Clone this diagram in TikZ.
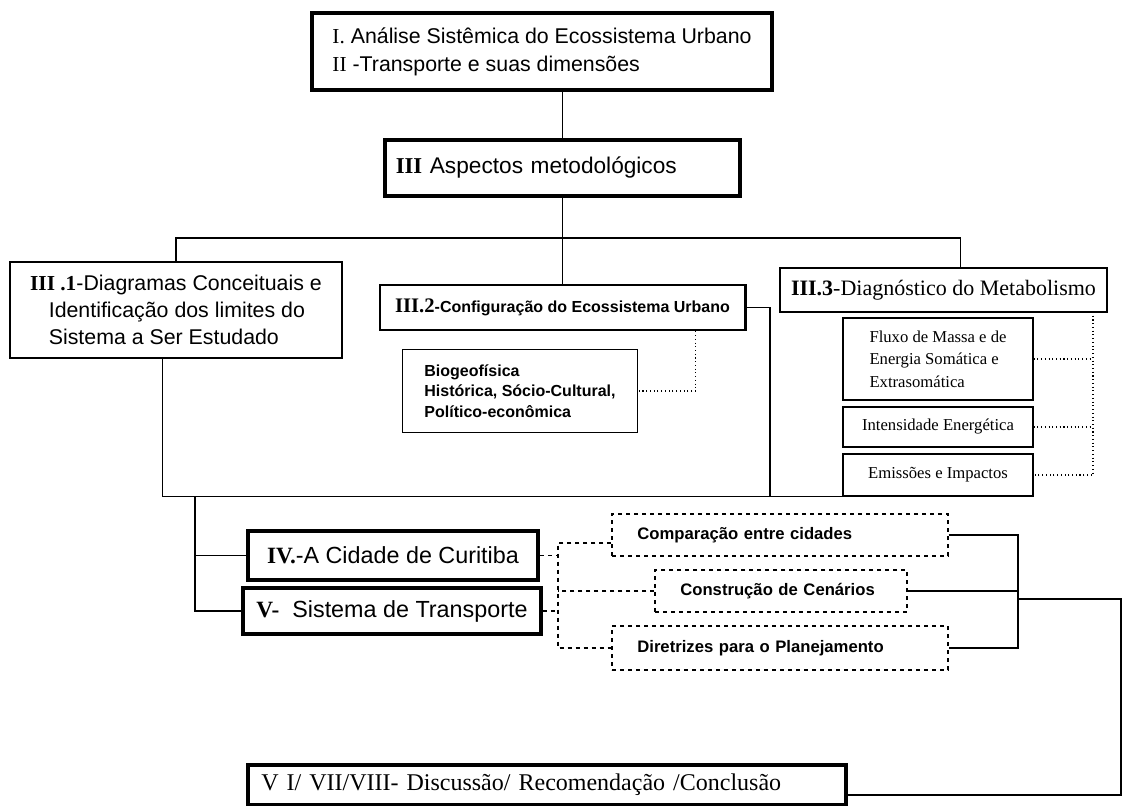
\documentclass[tikz,border=0pt]{standalone}
\usepackage{fontspec}
\setmainfont{Liberation Serif}
\setsansfont{Liberation Sans}
\usepackage{tikz}

\begin{document}
\begin{tikzpicture}[x=0.75pt,y=-0.75pt,
    every node/.style={inner sep=0pt,align=left},
    heavybox/.style={draw,line width=3.2pt},
    midbox/.style={draw,line width=2pt},
    thinbox/.style={draw,line width=0.9pt},
    metabsub/.style={thinbox,minimum width=142.5pt,font=\rmfamily\fontsize{12.5}{17}\selectfont},
    dashbox/.style={draw,dashed,line width=0.9pt,inner xsep=19pt,minimum height=31.5pt,font=\sffamily\bfseries\fontsize{12.5}{14}\selectfont},
    link/.style={line width=0.8pt},
    dotlink/.style={line width=0.8pt,dotted},
    heavylink/.style={line width=2.2pt}]
  \useasboundingbox (0,0) rectangle (1124,806);

  % chapters I, II and III
  \node[heavybox,minimum width=345pt,minimum height=57.75pt,font=\sffamily\fontsize{16}{21}\selectfont] (intro) at (542,51.5) {{\rmfamily I.} Análise Sistêmica do Ecossistema Urbano\\{\rmfamily II} -Transporte e suas dimensões};
  \node[heavybox,minimum width=266pt,minimum height=42pt,inner xsep=8pt,text width=250pt,font=\sffamily\fontsize{17}{19}\selectfont] (aspects) at (562.5,168) {{\rmfamily\bfseries III} Aspectos metodológicos};
  \coordinate (split) at (562,238);

  % the three parts of III
  \node[midbox,minimum width=249pt,minimum height=72pt,font=\sffamily\fontsize{16}{20}\selectfont] (diag) at (176,310) {{\rmfamily\bfseries III .1}-Diagramas Conceituais e\\\hspace*{14pt}Identificação dos limites do\\\hspace*{14pt}Sistema a Ser Estudado};
  \node[midbox,minimum width=274pt,minimum height=33.75pt,font=\sffamily\bfseries\fontsize{12}{14}\selectfont] (config) at (562.5,307.5) {{\rmfamily\fontsize{15.5}{15.5}\selectfont III.2}-Configuração do Ecossistema Urbano};
  \node[thinbox,minimum width=176pt,minimum height=62pt,font=\sffamily\bfseries\fontsize{12}{15.5}\selectfont] (bio) at (520,391) {Biogeofísica\\Histórica, Sócio-Cultural,\\Político-econômica};
  \node[midbox,minimum width=245.25pt,minimum height=33pt,font=\rmfamily\fontsize{16.5}{18}\selectfont] (metab) at (943.5,290) {{\bfseries III.3}-Diagnóstico do Metabolismo};
  \node[metabsub,minimum height=61.5pt] (fluxo) at (938,359) {Fluxo de Massa e de\\Energia Somática e\\Extrasomática};
  \node[metabsub,minimum height=30pt] (intens) at (938,427) {Intensidade Energética};
  \node[metabsub,minimum height=31.5pt] (emiss) at (938,475) {Emissões e Impactos};
  \coordinate (tap) at (1093,312);
  \coordinate (join) at (770,496);
  \coordinate (fork) at (195,496);

  % chapters IV and V
  \node[heavybox,minimum width=217.5pt,minimum height=36.75pt,font=\sffamily\fontsize{17.5}{19}\selectfont] (curitiba) at (393,555.5) {{\rmfamily\bfseries IV.}-A Cidade de Curitiba};
  \node[heavybox,minimum width=223.5pt,minimum height=34.5pt,font=\sffamily\fontsize{17.5}{19}\selectfont] (transp) at (392,611) {{\rmfamily\bfseries V-}\ \ Sistema de Transporte};
  \node[dashbox,minimum width=252pt,text width=214pt] (compar) at (780,535) {Comparação entre cidades};
  \node[dashbox,minimum width=189pt,text width=151pt] (cenar) at (781,591) {Construção de Cenários};
  \node[dashbox,minimum width=252pt,text width=214pt,minimum height=33pt] (diretr) at (780,648) {Diretrizes para o Planejamento};
  \coordinate (brk) at (558,590);
  \coordinate (merge) at (1018,599);
  \coordinate (rim) at (1121,599);

  % chapters VI to VIII
  \node[heavybox,minimum width=448.5pt,minimum height=30pt,inner xsep=10pt,text width=428.5pt,font=\rmfamily\fontsize{18}{20}\selectfont] (concl) at (547,785) {V I/ VII/VIII- Discussão/ Recomendação /Conclusão};

  % connectors
  \draw[link] (aspects.north |- intro.south) -- (aspects.north);
  \draw[link] (aspects.south) -- (config.north);
  \draw[link] (diag.north) |- (split) -| ([xshift=13pt]metab.north);
  \draw[link] ([xshift=-10pt]diag.south) |- (emiss.south east);
  \draw[link] (config.east) -| (join);
  \draw[dotlink] ([xshift=100pt]config.south) |- (bio.east);
  \draw[dotlink] (tap) |- (emiss.east);
  \draw[dotlink] (fluxo.east) -- (fluxo.east -| tap);
  \draw[dotlink] (intens.east) -- (intens.east -| tap);
  \draw[link] (fork) |- (transp.west);
  \draw[link] (fork |- curitiba.west) -- (curitiba.west);
  \draw[link,dashed] ([yshift=-6pt]compar.west) -| (brk) |- (diretr.west);
  \draw[link,dashed] (cenar.west) -- (cenar.west -| brk);
  \draw[link,dashed] (curitiba.east) -- (curitiba.east -| brk);
  \draw[link,dashed] (transp.east) -- (transp.east -| brk);
  \draw[link] (compar.east) -| (merge) |- (diretr.east);
  \draw[link] (cenar.east) -- (cenar.east -| merge);
  \draw[heavylink] (merge) -- (rim) |- ([yshift=-7.5pt]concl.east);
\end{tikzpicture}
\end{document}
